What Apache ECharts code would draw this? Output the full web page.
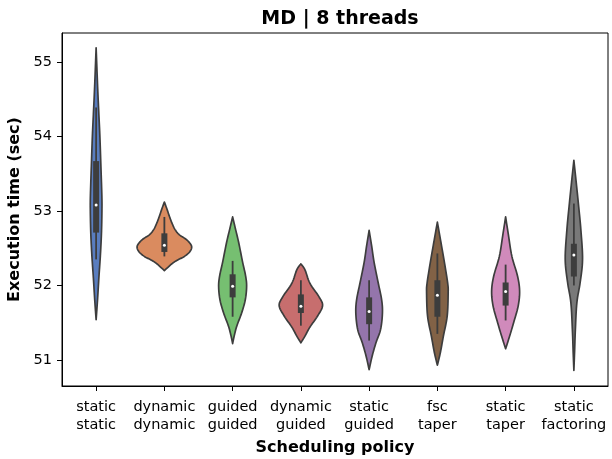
<!DOCTYPE html>
<html><head><meta charset="utf-8">
<script src="https://cdn.jsdelivr.net/npm/echarts@6/dist/echarts.min.js"></script>
<style>html,body{margin:0;padding:0;background:#fff}#c{width:612px;height:459px}</style>
</head><body><div id="c"></div>
<script>
// ---- data ----
const categories = ['static\nstatic', 'dynamic\ndynamic', 'guided\nguided', 'dynamic\nguided',
                    'static\nguided', 'fsc\ntaper', 'static\ntaper', 'static\nfactoring'];
const colors = ['#597dbf', '#da8b5f', '#76bf71', '#c76e6e', '#9475ab', '#826246', '#d08abb', '#797979'];
// [whisker low, q1, median, q3, whisker high] (sec)
const boxStats = [
  [52.35, 52.71, 53.08, 53.67, 54.39],
  [52.39, 52.45, 52.54, 52.70, 52.92],
  [51.58, 51.84, 51.99, 52.15, 52.33],
  [51.46, 51.63, 51.72, 51.88, 52.07],
  [51.26, 51.48, 51.65, 51.84, 52.07],
  [51.35, 51.58, 51.87, 52.07, 52.43],
  [51.53, 51.73, 51.92, 52.04, 52.28],
  [52.00, 52.12, 52.41, 52.56, 53.10]
];
// violin outlines: [time (sec), half width as a fraction of the category band]
const violinStaticStatic = [[55.19,0],[54.9,0.012],[54.6,0.025],[54.3,0.04],[54.0,0.055],[53.6,0.07],[53.2,0.084],[53.0,0.085],[52.7,0.078],[52.4,0.062],[52.1,0.04],[51.8,0.02],[51.54,0]];
const violinDynamicDynamic = [[53.12,0],[53.02,0.04],[52.93,0.073],[52.84,0.11],[52.75,0.157],[52.68,0.22],[52.62,0.318],[52.56,0.38],[52.51,0.40],[52.45,0.37],[52.39,0.293],[52.34,0.19],[52.30,0.122],[52.25,0.06],[52.20,0]];
const violinGuidedGuided = [[52.92,0],[52.75,0.044],[52.58,0.088],[52.31,0.147],[52.13,0.19],[51.99,0.205],[51.81,0.186],[51.63,0.132],[51.46,0.063],[51.33,0.025],[51.22,0]];
const violinDynamicGuided = [[52.29,0],[52.21,0.06],[52.03,0.132],[51.85,0.264],[51.73,0.318],[51.59,0.245],[51.44,0.132],[51.32,0.06],[51.23,0]];
const violinStaticGuided = [[52.74,0],[52.53,0.037],[52.31,0.073],[52.04,0.132],[51.81,0.183],[51.63,0.195],[51.41,0.168],[51.23,0.1],[51.05,0.044],[50.87,0]];
const violinFscTaper = [[52.85,0],[52.57,0.054],[52.30,0.105],[52.03,0.151],[51.90,0.158],[51.59,0.144],[51.32,0.088],[51.10,0.044],[50.93,0]];
const violinStaticTaper = [[52.92,0],[52.66,0.044],[52.39,0.092],[52.12,0.176],[51.92,0.205],[51.72,0.183],[51.50,0.117],[51.32,0.059],[51.15,0]];
const violinStaticFactoring = [[53.68,0],[53.42,0.03],[53.10,0.066],[52.74,0.103],[52.35,0.127],[52.04,0.092],[51.77,0.044],[51.41,0.022],[51.1,0.01],[50.86,0]];
const violins = [violinStaticStatic, violinDynamicDynamic, violinGuidedGuided, violinDynamicGuided,
                 violinStaticGuided, violinFscTaper, violinStaticTaper, violinStaticFactoring];
const yTicks = [51, 52, 53, 54, 55];
const yMin = 50.65, yMax = 55.39;

// ---- rendering helpers (smooth outline drawn through the given points) ----
function spline(pts, steps) {
  const out = [pts[0]];
  for (let i = 0; i < pts.length - 1; i++) {
    const p0 = pts[i - 1] || pts[i], p1 = pts[i], p2 = pts[i + 1], p3 = pts[i + 2] || pts[i + 1];
    const c1 = [p1[0] + (p2[0] - p0[0]) / 6, p1[1] + (p2[1] - p0[1]) / 6];
    const c2 = [p2[0] - (p3[0] - p1[0]) / 6, p2[1] - (p3[1] - p1[1]) / 6];
    for (let s = 1; s <= steps; s++) {
      const t = s / steps, u = 1 - t;
      out.push([
        u*u*u*p1[0] + 3*u*u*t*c1[0] + 3*u*t*t*c2[0] + t*t*t*p2[0],
        u*u*u*p1[1] + 3*u*u*t*c1[1] + 3*u*t*t*c2[1] + t*t*t*p2[1]
      ]);
    }
  }
  return out;
}

const edge = '#3d3d3d';
function renderItem(params, api) {
  const idx = api.value(0);
  const band = api.size([1, 0])[0];
  const cx = api.coord([idx, yMin])[0];
  const prof = violins[idx];
  const right = prof.map(p => [cx + p[1] * band, api.coord([idx, p[0]])[1]]);
  const left = prof.slice().reverse().map(p => [cx - p[1] * band, api.coord([idx, p[0]])[1]]);
  const pts = spline(right, 8).concat(spline(left, 8).slice(1));
  const yw0 = api.coord([idx, api.value(1)])[1];
  const yq1 = api.coord([idx, api.value(2)])[1];
  const ymd = api.coord([idx, api.value(3)])[1];
  const yq3 = api.coord([idx, api.value(4)])[1];
  const yw1 = api.coord([idx, api.value(5)])[1];
  return {
    type: 'group',
    children: [
      { type: 'polygon', shape: { points: pts }, style: { fill: colors[idx], stroke: edge, lineWidth: 1.7, lineJoin: 'round' } },
      { type: 'line', shape: { x1: cx, y1: yw0, x2: cx, y2: yw1 }, style: { stroke: edge, lineWidth: 1.8 } },
      { type: 'rect', shape: { x: cx - 3, y: yq3, width: 6, height: yq1 - yq3 }, style: { fill: edge } },
      { type: 'circle', shape: { cx: cx, cy: ymd, r: 1.5 }, style: { fill: '#ffffff' } }
    ]
  };
}

const chart = echarts.init(document.getElementById('c'), null, { renderer: 'canvas' });
const font = 'DejaVu Sans';
chart.setOption({
  animation: false,
  backgroundColor: '#ffffff',
  title: {
    text: 'MD | 8 threads', left: 335, top: 5, textAlign: 'center',
    textStyle: { fontFamily: font, fontWeight: 'bold', fontSize: 19, color: '#000' }
  },
  grid: { left: 62, right: 4, top: 33, bottom: 73, outerBoundsMode: 'none', containLabel: false,
          show: true, borderColor: '#000', borderWidth: 1, backgroundColor: 'transparent' },
  xAxis: {
    type: 'category', data: categories,
    axisLine: { show: true, lineStyle: { color: '#000', width: 1 } },
    axisTick: { show: true, alignWithLabel: true, interval: 0, length: 5, lineStyle: { color: '#000', width: 1 } },
    axisLabel: { interval: 0, color: '#000', fontFamily: font, fontSize: 14.5, lineHeight: 18, margin: 12 },
    name: 'Scheduling policy', nameLocation: 'middle', nameGap: 54,
    nameTextStyle: { fontFamily: font, fontWeight: 'bold', fontSize: 16, color: '#000' }
  },
  yAxis: {
    type: 'value', min: yMin, max: yMax,
    splitLine: { show: false },
    axisLine: { show: true, lineStyle: { color: '#000', width: 1 } },
    axisTick: { show: true, length: 5, customValues: yTicks, lineStyle: { color: '#000', width: 1 } },
    axisLabel: { customValues: yTicks, color: '#000', fontFamily: font, fontSize: 14.5, margin: 10 },
    name: 'Execution time (sec)', nameLocation: 'middle', nameGap: 39,
    nameTextStyle: { fontFamily: font, fontWeight: 'bold', fontSize: 16, color: '#000' }
  },
  series: [{
    type: 'custom',
    renderItem: renderItem,
    encode: { x: 0, y: [1, 2, 3, 4, 5] },
    data: boxStats.map((s, i) => [i].concat(s)),
    clip: false
  }]
});
</script>
</body></html>
